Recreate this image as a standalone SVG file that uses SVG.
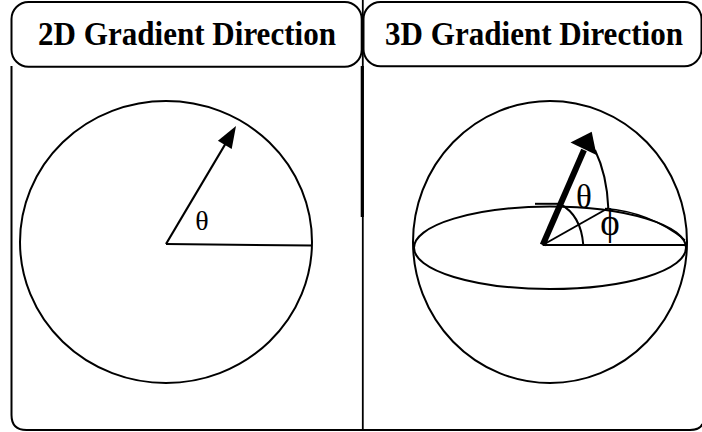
<svg xmlns="http://www.w3.org/2000/svg" width="702" height="432" viewBox="0 0 702 432">
<style>
.ln{fill:none;stroke:#000;stroke-width:2}
.hd{font-family:"Liberation Serif","Times New Roman",serif;font-weight:bold;font-size:33px;fill:#000}
.gk{font-family:"Liberation Serif","Times New Roman",serif;fill:#000}
</style>
<rect width="702" height="432" fill="#fff"/>
<g id="frame">
<path class="ln" d="M11.5,66 V415 Q11.5,430 26.5,430 H690 Q700,430 702.5,424"/>
<line x1="362.8" y1="0" x2="362.8" y2="431" stroke="#000" stroke-width="1.8"/>
<line x1="362.3" y1="66" x2="362.3" y2="217" stroke="#000" stroke-width="3.2"/>
</g>
<g id="header2d">
<rect class="ln" x="11.5" y="2" width="350.2" height="64.7" rx="17"/>
<text class="hd" x="187" y="45" text-anchor="middle" textLength="298" lengthAdjust="spacingAndGlyphs">2D Gradient Direction</text>
</g>
<g id="header3d">
<rect class="ln" x="363.5" y="2" width="338" height="64.2" rx="17"/>
<text class="hd" x="534" y="45" text-anchor="middle" textLength="298" lengthAdjust="spacingAndGlyphs">3D Gradient Direction</text>
</g>
<g id="circle2d">
<ellipse class="ln" cx="166" cy="242" rx="146" ry="141"/>
<line class="ln" x1="166" y1="244" x2="312" y2="245.5"/>
<line x1="166" y1="244" x2="225.5" y2="143.8" stroke="#000" stroke-width="2.2"/>
<polygon points="236,126 231.7,149 217.9,140.8" fill="#000"/>
<text class="gk" x="202" y="230" font-size="28" text-anchor="middle">θ</text>
</g>
<g id="sphere3d">
<ellipse class="ln" cx="550" cy="242" rx="137" ry="141"/>
<ellipse class="ln" cx="550" cy="247.8" rx="136" ry="41.2"/>
<path d="M605,208.5 Q650,212 685,240" fill="none" stroke="#000" stroke-width="1.5"/>
<line class="ln" x1="542.7" y1="245" x2="686" y2="245"/>
<line class="ln" x1="542.7" y1="245" x2="608.3" y2="208"/>
<path class="ln" d="M595,150 Q607,175 608.3,208"/>
<path class="ln" d="M583.3,245 Q581,215 560,204"/>
<line class="ln" x1="535" y1="203.8" x2="563" y2="203.8"/>
<line x1="542.7" y1="245" x2="584" y2="150" stroke="#000" stroke-width="6"/>
<polygon points="591.7,131.7 596.5,155 570.5,142.5" fill="#000"/>
<text class="gk" x="584" y="208" font-size="33" text-anchor="middle">θ</text>
<text class="gk" x="610" y="235" font-size="37" text-anchor="middle">ϕ</text>
</g>
</svg>
